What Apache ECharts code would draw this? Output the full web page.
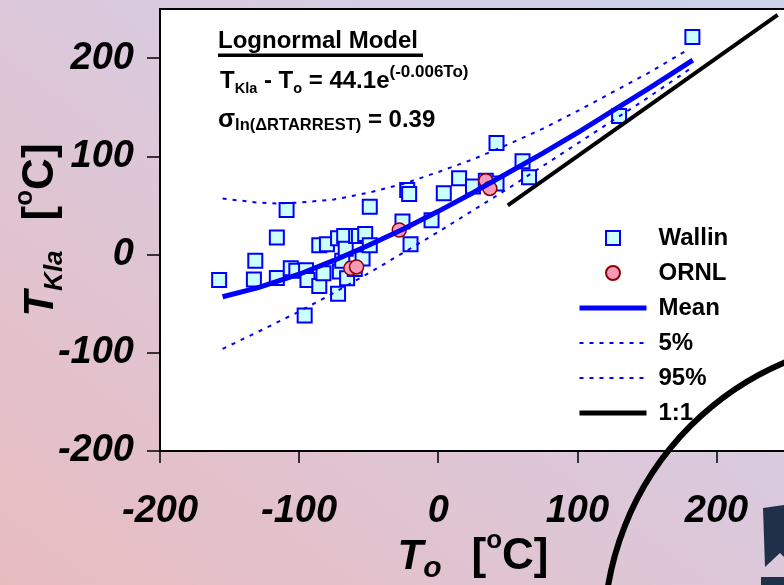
<!DOCTYPE html>
<html><head><meta charset="utf-8">
<script src="https://cdn.jsdelivr.net/npm/echarts@6/dist/echarts.min.js"></script>
<style>
html,body{margin:0;padding:0;}
#c{width:784px;height:585px;background:linear-gradient(to top right,#e8bcbf 0%,#dcc8da 50%,#cbd4ec 100%);}
</style></head><body><div id="c"></div>
<script>
const xTicks = [-200, -100, 0, 100, 200];
const yTicks = [-200, -100, 0, 100, 200];
const seriesNames = ['Wallin', 'ORNL', 'Mean', '5%', '95%', '1:1'];

const wallin = [
  [-157.5,-25.8],[-132.5,-25.5],[-131.5,-6.4],[-116,17.3],[-116,-23.8],[-109,45.3],
  [-106,-14],[-102,-16.6],[-96,-62],[-95,-16],[-94,-26],[-85.5,-32],[-85.5,9.6],
  [-82.5,-19],[-80,10.5],[-72,16.7],[-72,-40],[-70.7,-17.3],[-69,-6.4],[-67.6,19],
  [-66.5,6],[-65.5,-24],[-60,-14.6],[-59,19],[-57,19],[-54.4,-4],[-52.5,21],[-49.2,9.6],
  [-49.2,48.7],[-25.7,33.6],[-22.3,65.7],[-20.9,61.6],[-19.9,10.6],[-4.8,35],[4,62.5],
  [15,77.6],[25,69.4],[34.2,75.2],[41.9,72.4],[41.9,113.7],[60.6,94.9],[65.3,78.6],
  [130,141],[182.7,221.4]
];
const ornl = [[-62.8,-13.9],[-58.7,-12.6],[-28,25],[34.2,75.2],[37.1,67.3]];

const meanCurve = [[-155,-43],[-130,-34],[-100,-20],[-75,-6],[-50,9.5],[-25,26],[0,44],[25,63],[50,83],[75,103],[100,124],[125,146],[150,168],[183,198]];
const p95Curve = [[-155,57],[-130,53],[-115,52],[-100,53],[-75,56],[-50,63],[-25,72],[0,84],[25,97],[50,112],[75,128],[100,146],[125,165],[150,184],[180,209]];
const p05Curve = [[-155,-96],[-130,-79],[-100,-58],[-75,-39],[-50,-19],[-25,2],[0,23],[25,45],[50,67],[75,90],[100,113],[125,136],[150,159],[182,190]];
const oneToOne = [[50,50],[244,244]];

const FF = '"Liberation Sans", Arial, sans-serif';
const chart = echarts.init(document.getElementById('c'), null, {renderer:'canvas'});

const tickLabel = {fontSize:38, fontWeight:'bold', fontStyle:'italic', color:'#000', fontFamily:FF};
const nameRich = {
  t:{fontSize:42, fontWeight:'bold', fontStyle:'italic', fontFamily:FF, color:'#000', verticalAlign:'bottom', padding:[0,0,8,0]},
  s:{fontSize:30, fontWeight:'bold', fontStyle:'italic', fontFamily:FF, color:'#000', verticalAlign:'bottom', padding:[0,0,2,0]},
  k:{fontSize:26, fontWeight:'bold', fontStyle:'italic', fontFamily:FF, color:'#000', verticalAlign:'bottom', padding:[0,0,2,0]},
  g:{fontSize:30, width:30, verticalAlign:'bottom'},
  b:{fontSize:44, fontWeight:'bold', fontFamily:FF, color:'#000', verticalAlign:'bottom', padding:[0,0,7.6,0]},
  u:{fontSize:26, fontWeight:'bold', fontFamily:FF, color:'#000', verticalAlign:'bottom', padding:[0,0,32,0]}
};
const noSymbol = {color:'rgba(0,0,0,0)', borderWidth:0, opacity:0};

const option = {
  animation:false,
  backgroundColor:'transparent',
  grid:{left:160, top:9, width:626, height:442, containLabel:false, outerBoundsMode:'none',
    show:true, backgroundColor:'#ffffff', borderColor:'#000', borderWidth:2},
  xAxis:{
    type:'value', min:-200, max:250, interval:100,
    axisLine:{show:true, onZero:false, lineStyle:{color:'#000', width:2}},
    axisTick:{show:true, length:12, lineStyle:{color:'#000', width:1.5}, customValues:xTicks},
    axisLabel:Object.assign({margin:42, customValues:xTicks, formatter:v=>xTicks.includes(v)?String(v):''}, tickLabel),
    splitLine:{show:false},
    name:'{t|T}{s|o}{g| }{b|[}{u|o}{b|C]}', nameLocation:'middle', nameGap:77, nameMoveOverlap:false,
    nameTextStyle:{rich:nameRich}
  },
  yAxis:{
    type:'value', min:-200, max:250, interval:100,
    axisLine:{show:true, onZero:false, lineStyle:{color:'#000', width:2}},
    axisTick:{show:true, length:13, lineStyle:{color:'#000', width:1.5}, customValues:yTicks},
    axisLabel:Object.assign({margin:26, padding:[10,0,0,0], customValues:yTicks, formatter:v=>yTicks.includes(v)?String(v):''}, tickLabel),
    splitLine:{show:false},
    name:'{t|T}{k|Kla}{g| }{b|[}{u|o}{b|C]}', nameLocation:'middle', nameGap:90, nameRotate:90, nameMoveOverlap:false,
    nameTextStyle:{rich:nameRich}
  },
  legend:{
    orient:'vertical', left:577, top:226, itemWidth:67, itemHeight:14, itemGap:11, padding:0,
    symbolKeepAspect:true,
    data:[
      {name:'Wallin', icon:'path://M0,0L10,0L10,10L0,10Z'}, {name:'ORNL'},
      {name:'Mean', itemStyle:noSymbol, lineStyle:{width:5}},
      {name:'5%', itemStyle:noSymbol, lineStyle:{width:2}},
      {name:'95%', itemStyle:noSymbol, lineStyle:{width:2}},
      {name:'1:1', itemStyle:noSymbol, lineStyle:{width:5}}
    ],
    textStyle:{fontSize:24, fontWeight:'bold', color:'#000', fontFamily:FF, lineHeight:24, padding:[0,0,0,7]}
  },
  series:[
    {name:'1:1', type:'line', data:oneToOne, symbol:'none', lineStyle:{color:'#000', width:4}, itemStyle:{color:'#000'}},
    {name:'95%', type:'line', data:p95Curve, symbol:'none', lineStyle:{color:'#0000ff', width:2, type:[4,6]}, itemStyle:{color:'#0000ff'}},
    {name:'5%', type:'line', data:p05Curve, symbol:'none', lineStyle:{color:'#0000ff', width:2, type:[4,6]}, itemStyle:{color:'#0000ff'}},
    {name:'Mean', type:'line', data:meanCurve, symbol:'none', lineStyle:{color:'#0000ff', width:5}, itemStyle:{color:'#0000ff'}},
    {name:'Wallin', type:'scatter', data:wallin, symbol:'rect', symbolSize:14, symbolKeepAspect:true,
      itemStyle:{color:'#ccffff', borderColor:'#0000ff', borderWidth:2, opacity:1}},
    {name:'ORNL', type:'scatter', data:ornl, symbol:'circle', symbolSize:14, symbolKeepAspect:true,
      itemStyle:{color:'#f799b9', borderColor:'#8b0000', borderWidth:1.5, opacity:1}}
  ],
  graphic:[
    {type:'text', z:50, style:{text:'Lognormal Model', x:218, y:41.5, fill:'#000', fontSize:24, fontWeight:'bold', fontFamily:FF, align:'left', verticalAlign:'middle'}},
    {type:'line', z:50, shape:{x1:218, y1:55.3, x2:423, y2:55.3}, style:{stroke:'#000', lineWidth:3.5}},
    {type:'text', z:50, style:{
      text:'{m|T}{s|Kla}{m| - T}{s|o}{m| = 44.1e}{p|(-0.006To)}', x:220, y:99, align:'left', verticalAlign:'bottom',
      rich:{
        m:{fontSize:24, fontWeight:'bold', fontFamily:FF, fill:'#000', verticalAlign:'bottom', padding:[0,0,6,0]},
        s:{fontSize:14.5, fontWeight:'bold', fontFamily:FF, fill:'#000', verticalAlign:'bottom', padding:[0,0,3,0]},
        p:{fontSize:17, fontWeight:'bold', fontFamily:FF, fill:'#000', verticalAlign:'bottom', padding:[0,0,18,0]}
      }}},
    {type:'text', z:50, style:{
      text:'{g|σ}{l|ln(ΔRTARREST)}{m| = 0.39}', x:218, y:136, align:'left', verticalAlign:'bottom',
      rich:{
        g:{fontSize:25, fontWeight:'bold', fontFamily:FF, fill:'#000', verticalAlign:'bottom', padding:[0,0,3,0]},
        l:{fontSize:16.5, fontWeight:'bold', fontFamily:FF, fill:'#000', verticalAlign:'bottom', padding:[0,0,2.5,0]},
        m:{fontSize:24, fontWeight:'bold', fontFamily:FF, fill:'#000', verticalAlign:'bottom', padding:[0,0,4,0]}
      }}},
    {type:'circle', z:100, silent:true, shape:{cx:900, cy:635, r:296}, style:{fill:'none', stroke:'#000', lineWidth:6}},
    {type:'polygon', z:100, silent:true, shape:{points:[[763,508],[784,505],[784,557],[780,553],[765,567]]}, style:{fill:'#1f3049'}},
    {type:'rect', z:100, silent:true, shape:{x:761, y:577, width:23, height:8}, style:{fill:'#1f3049'}}
  ]
};
chart.setOption(option);
</script></body></html>
